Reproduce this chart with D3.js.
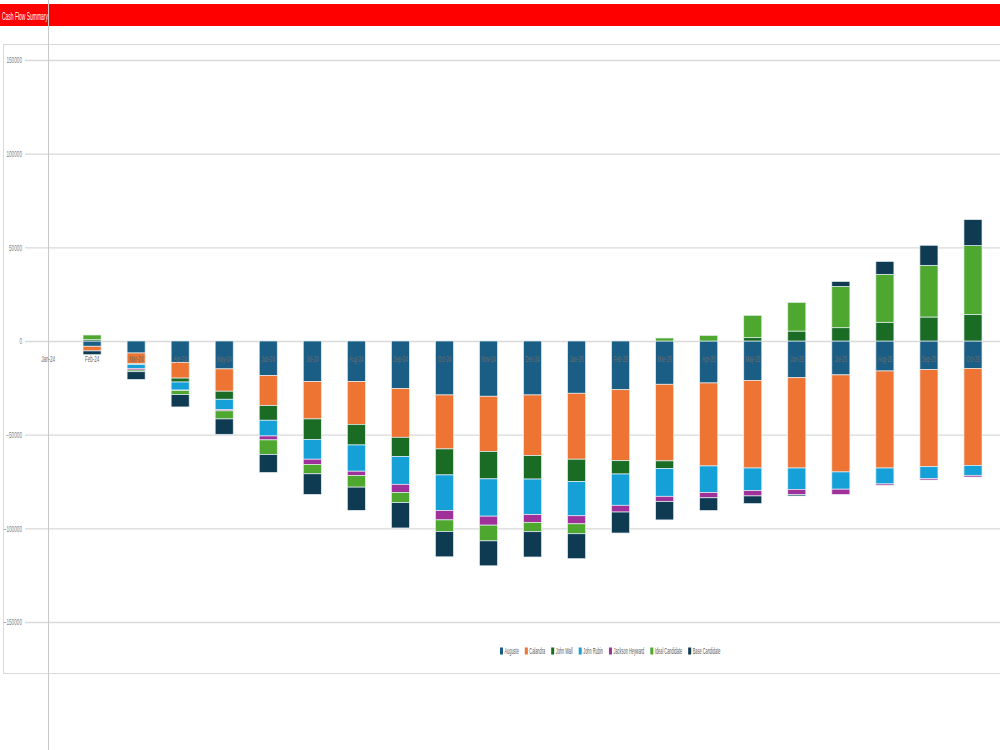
<!DOCTYPE html>
<html>
<head>
<meta charset="utf-8">
<script src="https://cdn.jsdelivr.net/npm/d3@7"></script>
<style>
body{margin:0;background:#fff;}
text{font-family:"Liberation Sans Narrow","Arial Narrow","Liberation Sans",sans-serif;}
</style>
</head>
<body>
<svg id="chart"></svg>
<script>
var months=["Jan-24","Feb-24","Mar-24","Apr-24","May-24","Jun-24","Jul-24","Aug-24","Sep-24","Oct-24","Nov-24","Dec-24",
            "Jan-25","Feb-25","Mar-25","Apr-25","May-25","Jun-25","Jul-25","Aug-25","Sep-25","Oct-25"];

var names=["Auguste","Calandra","John Wall","John Rubin","Jackson Heyward","Ideal Candidate","Base Candidate"];

var auguste=[0,-2800,-6400,-11400,-14900,-18500,-21700,-21700,-25300,-28800,-29500,-28800,-27900,-26000,-23100,-22400,-21000,-19600,-18100,-16000,-15300,-14600];
var calandra=[0,-2500,-5700,-8400,-11900,-16000,-19900,-22800,-26100,-28800,-29500,-32400,-35200,-37900,-40900,-44300,-46800,-48200,-51800,-51800,-51800,-51800];
var johnWall=[0,700,-500,-2100,-4300,-7800,-11000,-11000,-10300,-13900,-14600,-12500,-11900,-7100,-4100,0,1800,5300,7100,10000,12800,14200];
var johnRubin=[0,0,-2000,-4300,-5500,-8400,-10500,-14000,-14800,-19000,-19900,-19000,-18300,-16700,-14800,-14200,-12100,-11400,-9200,-8500,-6400,-5300];
var jackson=[0,0,-900,-300,-700,-2100,-2800,-2300,-4300,-5000,-4800,-4100,-4300,-3600,-2800,-2800,-2800,-2800,-2800,-700,-700,-900];
var ideal=[0,2500,-900,-2100,-4300,-7800,-5000,-6200,-5500,-6200,-8400,-5000,-5300,0,1600,3000,11900,15300,22000,25600,27600,36700];
var baseCand=[0,-2000,-4100,-6600,-8200,-9600,-11000,-12400,-13500,-13500,-13300,-13500,-13300,-11200,-9800,-6800,-4100,-700,2700,6900,10700,13900];

var yTicks=[-150000,-100000,-50000,0,50000,100000,150000];

var colors=["#1b5e85","#ed7432","#1a6b24","#15a0d8","#a0309a","#4ea72e","#0e3a52"];

var allSeries=[auguste,calandra,johnWall,johnRubin,jackson,ideal,baseCand];

var drawChart=function()
{
    var screen={width:1000,height:750};
    var svg=d3.select("#chart")
        .attr("width",screen.width)
        .attr("height",screen.height);

    // header
    svg.append("rect").attr("x",0).attr("y",4).attr("width",1000).attr("height",22).attr("fill","#ff0000");
    svg.append("text").attr("transform","translate(2,19.5) scale(0.45,1)").attr("fill","#fff").attr("font-size",11)
        .text("Cash Flow Summary");

    // chart frame
    svg.append("rect").attr("x",3.5).attr("y",44.5).attr("width",1000).attr("height",629)
        .attr("fill","none").attr("stroke","#d9d9d9");

    var rows=months.map(function(m,i){
        var r={month:m};
        names.forEach(function(n,j){ r[n]=allSeries[j][i]; });
        return r;
    });

    var xScale=d3.scaleBand()
        .domain(months)
        .range([26,995])
        .paddingInner(0.59)
        .paddingOuter(0.295);
    var yScale=d3.scaleLinear()
        .domain([-150000,150000])
        .range([622,60]);

    // gridlines + labels
    var yAxis=d3.axisLeft(yScale).tickValues(yTicks).tickFormat(d3.format("d")).tickSize(-975).tickPadding(3);
    var ga=svg.append("g").attr("transform","translate(25,0)").call(yAxis);
    ga.select(".domain").remove();
    ga.selectAll(".tick line").attr("stroke","#d9d9d9").attr("stroke-width",1.3);
    ga.selectAll(".tick text").attr("fill","#7f7f7f").attr("font-size",8.5)
        .attr("x",0).attr("transform","translate(-3,0) scale(0.55,1)");

    // vertical line
    svg.append("line").attr("x1",48.5).attr("x2",48.5).attr("y1",0).attr("y2",750)
        .attr("stroke","#c8c8c8").attr("stroke-width",1);

    var stacked=d3.stack().keys(names).offset(d3.stackOffsetDiverging)(rows);

    svg.append("g").selectAll("g")
        .data(stacked)
        .enter()
        .append("g")
        .attr("fill",function(d,i){return colors[i];})
        .selectAll("rect")
        .data(function(d){return d;})
        .enter()
        .append("rect")
        .attr("x",function(d){return xScale(d.data.month);})
        .attr("width",xScale.bandwidth())
        .attr("y",function(d){return yScale(d[1]);})
        .attr("height",function(d){return yScale(d[0])-yScale(d[1]);})
        .attr("stroke","#e6eef3")
        .attr("stroke-width",function(d){return d[1]-d[0]>0?0.7:0;});

    // month labels sit just under zero
    var xAxis=d3.axisBottom(xScale).tickSize(0).tickPadding(0);
    var gx=svg.append("g").attr("transform","translate(0,"+(yScale(0)+21)+")").call(xAxis);
    gx.select(".domain").remove();
    gx.selectAll(".tick text").attr("fill","#6b6b6b").attr("font-size",9).attr("dy","0").attr("y",0)
        .attr("transform","scale(0.5,1)");

    // legend
    var lg=svg.append("g").attr("transform","translate(0,651)");
    var xPos=500;
    names.forEach(function(n,i){
        lg.append("rect").attr("x",xPos).attr("y",-3.5).attr("width",3).attr("height",7).attr("fill",colors[i]);
        var t=lg.append("text").attr("transform","translate("+(xPos+4.5)+",3) scale(0.46,1)")
            .attr("fill","#595959").attr("font-size",8.5).text(n);
        var w=t.node().getComputedTextLength()*0.46;
        xPos=xPos+4.5+w+6;
    });
};

drawChart();
</script>
</body>
</html>
